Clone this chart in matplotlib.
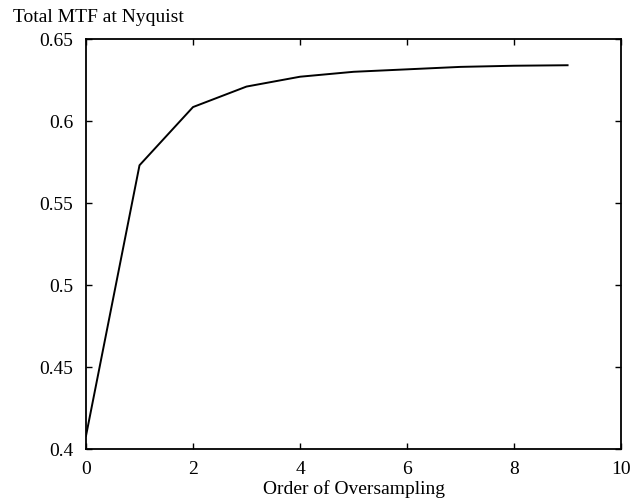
import matplotlib

matplotlib.use("Agg")
import matplotlib.pyplot as plt
from matplotlib.ticker import FuncFormatter

# values
order = [0, 1, 2, 3, 4, 5, 6, 7, 8, 9]
mtf = [0.408, 0.573, 0.6085, 0.621, 0.627, 0.630, 0.6315, 0.633, 0.6337, 0.634]
x_ticks = [0, 2, 4, 6, 8, 10]
y_ticks = [0.4, 0.45, 0.5, 0.55, 0.6, 0.65]

FONT = 14

plt.rcParams["font.family"] = ["Liberation Serif", "DejaVu Serif"]
plt.rcParams["font.size"] = FONT

fig = plt.figure(figsize=(6.37, 5.0), dpi=100)
ax = fig.add_axes([0.135, 0.102, 0.840, 0.820])

ax.plot(order, mtf, color="black", linewidth=1.4)

ax.set_xlim(0, 10)
ax.set_ylim(0.4, 0.65)
ax.set_xticks(x_ticks)
ax.set_yticks(y_ticks)
ax.yaxis.set_major_formatter(FuncFormatter(lambda v, _: f"{v:g}"))
ax.tick_params(direction="in", top=True, right=True, length=4, width=1, labelsize=FONT)
ax.tick_params(axis="x", pad=9)
ax.tick_params(axis="y", pad=9)
for s in ax.spines.values():
    s.set_linewidth(1.3)

ax.set_xlabel("Order of Oversampling", fontsize=FONT, labelpad=1)
fig.text(13 / 637, 1 - 17 / 500, "Total MTF at Nyquist", fontsize=FONT, ha="left", va="center")

fig.savefig("out.png", dpi=100)
